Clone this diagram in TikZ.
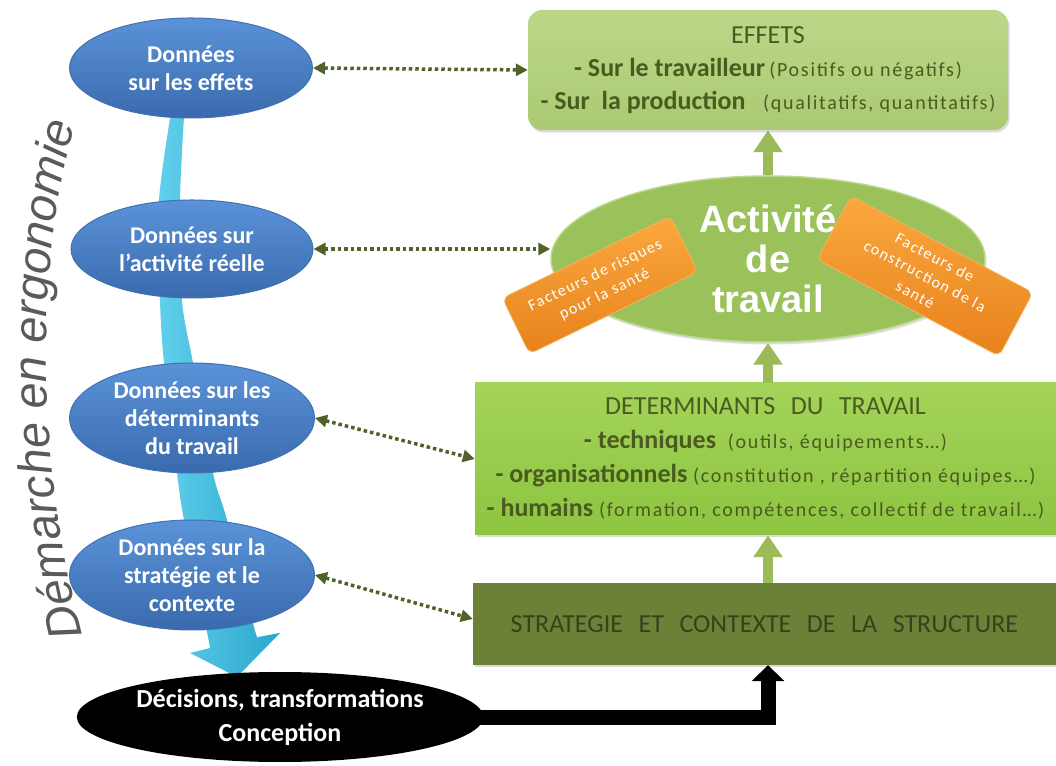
\documentclass[tikz,border=0pt]{standalone}
\usepackage{fontspec}
\setmainfont{Carlito}
\newfontfamily\parfont[LetterSpace=8.5]{Carlito}
\newfontfamily\artfont{Liberation Sans}
\usepackage{tikz}
\usetikzlibrary{arrows.meta, shapes.geometric, shadows, decorations.text}
\usepackage{xcolor}

\definecolor{blueTop}{HTML}{5B93D8}
\definecolor{blueBot}{HTML}{3A6AAE}
\definecolor{blueEdge}{HTML}{4071B0}
\definecolor{cyanA}{HTML}{2AA6CD}
\definecolor{cyanB}{HTML}{62D0EC}
\definecolor{effTop}{HTML}{BCD789}
\definecolor{effBot}{HTML}{ABCA72}
\definecolor{oliveText}{HTML}{4A5B20}
\definecolor{actFill}{HTML}{9BC25A}
\definecolor{actEdge}{HTML}{B9D88A}
\definecolor{orTop}{HTML}{FAA83F}
\definecolor{orBot}{HTML}{E8821C}
\definecolor{orEdge}{HTML}{F7B35C}
\definecolor{detTop}{HTML}{A4D45A}
\definecolor{detBot}{HTML}{8DC440}
\definecolor{stratFill}{HTML}{6B8137}
\definecolor{stratText}{HTML}{34431A}
\definecolor{arrGreen}{HTML}{9BBB59}
\definecolor{dotGreen}{HTML}{4F6228}
\definecolor{greyText}{HTML}{5A5A5A}

\newcommand{\pnote}[1]{{\parfont\fontsize{20}{24}\selectfont #1}}
\newcommand{\wsp}{\hspace{0.6em}}

\begin{document}
\begin{tikzpicture}[x=1pt, y=1pt,
  blob/.style={ellipse, draw=blueEdge, line width=1pt, top color=blueTop, bottom color=blueBot,
    text=white, align=center, inner sep=0pt, font=\fontsize{24}{28}\selectfont\bfseries},
  card/.style={align=center, inner sep=0pt, text=oliveText,
    drop shadow={opacity=0.3, shadow xshift=1.5pt, shadow yshift=-2.5pt}},
  tag/.style={rectangle, rounded corners=7pt, draw=orEdge, line width=0.8pt, top color=orTop,
    bottom color=orBot, text=white, align=center, inner sep=0pt, font=\parfont\fontsize{16}{21}\selectfont},
  grarr/.style={draw=arrGreen, line width=10pt, -{Triangle[width=28pt, length=22pt]}},
  dotarr/.style={draw=dotGreen, line width=3.5pt, dash pattern=on 3.5pt off 3pt,
    {Triangle[width=12pt, length=12pt]}-{Triangle[width=12pt, length=12pt]}},
  blkarr/.style={draw=black, line width=15pt, -{Triangle[width=32pt, length=16pt]}}
]
  \useasboundingbox (0,0) rectangle (1056,765);

  \shade[left color=cyanB, right color=cyanA]
    plot[smooth] coordinates {(173,665) (159,565) (160,465) (164,402) (177,292) (184,245) (206,138) (210,117)}
    -- (190,112) -- (237,88) -- (280,132)
    -- plot[smooth] coordinates {(258,128) (254,138) (227,245) (213,292) (193,402) (182,465) (180,565) (185,665)}
    -- cycle;

  \node[blob, minimum width=243pt, minimum height=100pt] (e1) at (191,697) {Données\\sur les effets};
  \node[blob, minimum width=242pt, minimum height=98pt] (e2) at (192,516) {Données sur\\l’activité réelle};
  \node[blob, minimum width=245pt, minimum height=110pt] (e3) at (192,347) {Données sur les\\déterminants\\du travail};
  \node[blob, minimum width=245pt, minimum height=110pt] (e4) at (192,190) {Données sur la\\stratégie et le\\contexte};

  \node[ellipse, fill=black, minimum width=365pt, minimum height=90pt, inner sep=0pt, text=white,
    align=center, font=\fontsize{26}{34}\selectfont\bfseries] (dec) at (280,48)
    {Décisions, transformations\\Conception};

  \node[card, rounded corners=14pt, top color=effTop, bottom color=effBot, minimum width=480pt,
    minimum height=120pt, font=\fontsize{26}{33}\selectfont] (eff) at (768,695)
    {EFFETS\\
     \textbf{- Sur le travailleur}\,\pnote{(Positifs ou négatifs)}\\
     \textbf{- Sur\ \ la production}\ \ \ \pnote{(qualitatifs, quantitatifs)}};

  \node[ellipse, fill=actFill, draw=actEdge, line width=1.5pt, minimum width=434pt, minimum height=166pt,
    inner sep=0pt, text=white, align=center, font=\artfont\bfseries\fontsize{38}{40}\selectfont,
    drop shadow={opacity=0.25, shadow xshift=1.5pt, shadow yshift=-2.5pt}] (act) at (768,506)
    {Activité\\de\\travail};

  \node[tag, minimum width=187pt, minimum height=62pt, rotate=26] (risk) at (600,480)
    {Facteurs de risques\\pour la santé};
  \node[tag, minimum width=206pt, minimum height=72pt, rotate=-28] (build) at (925,489)
    {Facteurs de\\construction de la\\santé};

  \node[card, top color=detTop, bottom color=detBot, minimum width=581pt, minimum height=152pt,
    font=\fontsize{26}{34}\selectfont] (det) at (765.5,306)
    {DETERMINANTS\wsp DU\wsp TRAVAIL\\
     \textbf{- techniques}\ \ \pnote{(outils, équipements…)}\\
     \textbf{- organisationnels}\ \pnote{(constitution , répartition équipes…)}\\
     \textbf{- humains}\ \pnote{(formation, compétences, collectif de travail…)}};

  \node[card, fill=stratFill, minimum width=583pt, minimum height=82pt, text=stratText,
    font=\fontsize{26}{30}\selectfont] (strat) at (764.5,141)
    {STRATEGIE\wsp ET\wsp CONTEXTE\wsp DE\wsp LA\wsp STRUCTURE};

  \draw[blkarr] ([xshift=-10pt]dec.east) -| (strat.south -| eff.south);
  \draw[grarr] (strat.north -| eff.south) -- (det.south -| eff.south);
  \draw[grarr] (det.north -| eff.south) -- (act.south -| eff.south);
  \draw[grarr] (act.north) -- (eff.south);

  \draw[dotarr] (e1.east) -- (eff.west);
  \draw[dotarr] (e2.east) -- (e2.east -| act.west);
  \draw[dotarr] (e3.east) -- (det.west);
  \draw[dotarr] (e4.east) -- ([yshift=5pt]strat.west);

  \path[decorate, decoration={text along path, text align=center, text color=greyText,
    text={|\artfont\itshape\fontsize{47}{47}\selectfont|Démarche en ergonomie}}]
    (86,115) .. controls (30,325) and (38,525) .. (80,655);
\end{tikzpicture}
\end{document}
